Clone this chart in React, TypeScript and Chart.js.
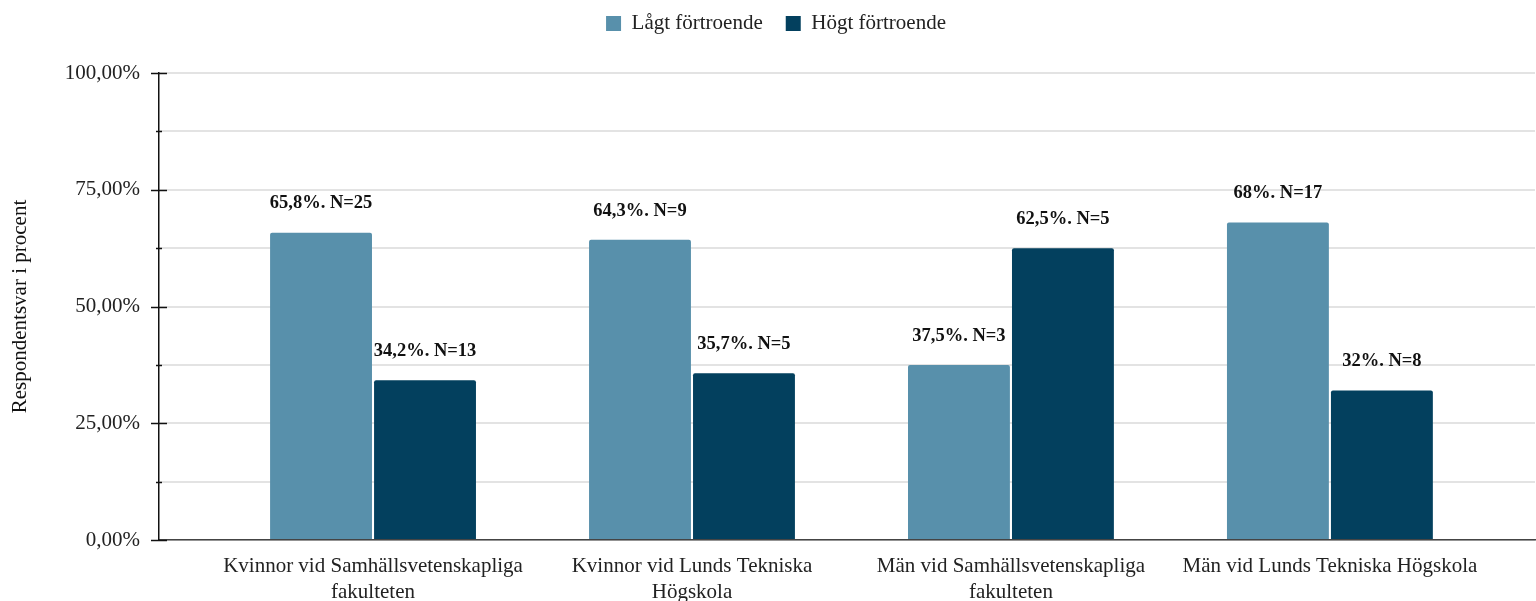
import React, { useEffect, useRef } from "react";
import { Chart, registerables } from "chart.js";

Chart.register(...registerables);

const categories: string[][] = [
  ["Kvinnor vid Samhällsvetenskapliga", "fakulteten"],
  ["Kvinnor vid Lunds Tekniska", "Högskola"],
  ["Män vid Samhällsvetenskapliga", "fakulteten"],
  ["Män vid Lunds Tekniska Högskola"],
];
const lowTrust: number[] = [65.8, 64.3, 37.5, 68];
const highTrust: number[] = [34.2, 35.7, 62.5, 32];
const lowN: number[] = [25, 9, 3, 17];
const highN: number[] = [13, 5, 5, 8];
const seriesNames: string[] = ["Lågt förtroende", "Högt förtroende"];
const yTicks: number[] = [0, 12.5, 25, 37.5, 50, 62.5, 75, 87.5, 100];

const LIGHT = "#5890ab";
const DARK = "#03405e";
const FONT = "'Liberation Serif', 'Times New Roman', serif";

const fmt = (v: number) => String(v).replace(".", ",");

export default function App() {
  const ref = useRef<HTMLCanvasElement | null>(null);

  useEffect(() => {
    document.body.style.margin = "0";
    const canvas = ref.current;
    if (!canvas) return;

    const labelsPlugin = {
      id: "barLabels",
      afterDatasetsDraw(chart: any) {
        const ctx = chart.ctx;
        const nArrs = [lowN, highN];
        ctx.save();
        ctx.font = `bold 18.5px ${FONT}`;
        ctx.fillStyle = "#111";
        ctx.textAlign = "center";
        ctx.textBaseline = "middle";
        chart.data.datasets.forEach((ds: any, i: number) => {
          const meta = chart.getDatasetMeta(i);
          meta.data.forEach((bar: any, j: number) => {
            const v = ds.data[j].y;
            ctx.fillText(`${fmt(v)}%. N=${nArrs[i][j]}`, bar.x, bar.y - 29);
          });
        });
        ctx.restore();
      },
    };

    const tickMarks = {
      id: "tickMarks",
      beforeInit(chart: any) {
        const lg = chart.legend;
        if (lg) {
          const orig = lg.fit;
          lg.fit = function () {
            orig.call(this);
            this.height = 73;
          };
        }
      },
      beforeDraw(chart: any) {
        const lg = chart.legend;
        if (lg) {
          lg.top = -10;
          lg.left = 8;
          lg.right = chart.width + 8;
          if (lg.adjustHitBoxes) lg.adjustHitBoxes();
        }
      },
      afterDraw(chart: any) {
        const ctx = chart.ctx;
        const ys = chart.scales.y;
        const ax = chart.chartArea.left;
        ctx.save();
        ctx.strokeStyle = "#111";
        ctx.lineWidth = 1.5;
        ys.ticks.forEach((t: any) => {
          const py = Math.round(ys.getPixelForValue(t.value)) + 0.5;
          const half = t.value % 25 === 0 ? 8 : 3;
          ctx.beginPath();
          ctx.moveTo(ax - half, py);
          ctx.lineTo(ax + half, py);
          ctx.stroke();
        });
        ctx.restore();
      },
    };

    const chart = new Chart(canvas, {
      type: "bar",
      data: {
        datasets: [
          {
            label: seriesNames[0],
            data: lowTrust.map((y, i) => ({ x: i, y })),
            backgroundColor: LIGHT,
            borderWidth: 0,
            borderRadius: { topLeft: 2, topRight: 2, bottomLeft: 0, bottomRight: 0 },
            borderSkipped: "bottom",
          },
          {
            label: seriesNames[1],
            data: highTrust.map((y, i) => ({ x: i, y })),
            backgroundColor: DARK,
            borderWidth: 0,
            borderRadius: { topLeft: 2, topRight: 2, bottomLeft: 0, bottomRight: 0 },
            borderSkipped: "bottom",
          },
        ],
      },
      options: {
        animation: false,
        responsive: true,
        maintainAspectRatio: false,
        datasets: { bar: { categoryPercentage: 0.652, barPercentage: 0.98 } },
        layout: { padding: { left: 0, right: 1, top: 0, bottom: 0 } },
        plugins: {
          tooltip: { enabled: false },
          legend: {
            position: "top",
            align: "center",
            labels: {
              boxWidth: 15,
              boxHeight: 15,
              padding: 23,
              color: "#222",
              font: { family: FONT, size: 21 },
            },
          },
        },
        scales: {
          x: {
            type: "linear",
            offset: false,
            min: -0.671,
            max: 3.643,
            grid: { display: false, drawTicks: false, offset: false },
            border: { display: true, color: "#444", width: 1.5 },
            afterBuildTicks: (scale: any) => {
              scale.ticks = categories.map((_, i) => ({ value: i }));
            },
            afterFit: (scale: any) => {
              scale.height = 61;
            },
            ticks: {
              autoSkip: false,
              maxRotation: 0,
              minRotation: 0,
              padding: 13,
              color: "#222",
              font: { family: FONT, size: 21, lineHeight: 1.24 },
              callback: (v: any) => categories[Math.round(Number(v))] ?? "",
            },
          },
          y: {
            min: 0,
            max: 100,
            afterBuildTicks: (scale: any) => {
              scale.ticks = yTicks.map((v) => ({ value: v }));
            },
            afterFit: (scale: any) => {
              scale.width = 159;
            },
            grid: { color: "#e3e3e3", lineWidth: 2, drawTicks: false },
            border: { display: true, color: "#111", width: 1.5 },
            title: {
              display: true,
              text: "Respondentsvar i procent",
              color: "#111",
              font: { family: FONT, size: 21 },
              padding: { top: 8, bottom: 0 },
            },
            ticks: {
              padding: 19,
              color: "#222",
              font: { family: FONT, size: 21 },
              callback: (v: any) =>
                Number(v) % 25 === 0 ? Number(v).toFixed(2).replace(".", ",") + "%" : "",
            },
          },
        },
      },
      plugins: [labelsPlugin, tickMarks],
    } as any);

    return () => chart.destroy();
  }, []);

  return (
    <div style={{ position: "fixed", left: 0, top: 0, width: 1536, height: 601 }}>
      <canvas ref={ref} />
    </div>
  );
}
